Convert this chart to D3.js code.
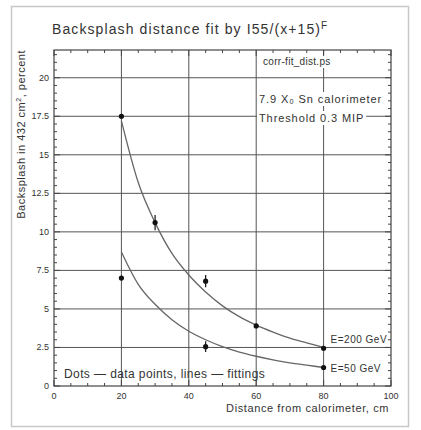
<!DOCTYPE html>
<html>
<head>
<meta charset="utf-8">
<script src="https://cdn.jsdelivr.net/npm/d3@7"></script>
<style>
  body { margin: 0; background: #fff; }
  text { font-family: "Liberation Sans", Arial, sans-serif; fill: #333; }
</style>
</head>
<body>
<svg width="421" height="430"></svg>
<script>
// measured data
let dist200 = [20, 30, 45, 60, 80];
let vals200 = [17.5, 10.6, 6.8, 3.9, 2.45];
let errs200 = [0, 0.5, 0.4, 0, 0];
let dist50 = [20, 45, 80];
let vals50 = [7.0, 2.55, 1.2];
let errs50 = [0, 0.35, 0];

// fit curves
let fitX = [20, 25, 30, 35, 40, 45, 50, 55, 60, 65, 70, 75, 80];
let fit200 = [17.2, 13.2, 10.6, 8.6, 7.2, 6.1, 5.2, 4.5, 3.95, 3.5, 3.1, 2.8, 2.5];
let fit50 = [8.7, 6.6, 5.3, 4.3, 3.55, 3.0, 2.55, 2.2, 1.93, 1.7, 1.5, 1.35, 1.2];

let xTicks = [0, 20, 40, 60, 80, 100];
let yTicks = [0, 2.5, 5, 7.5, 10, 12.5, 15, 17.5, 20];
let notes = ["corr-fit_dist.ps", "7.9 X\u2080 Sn calorimeter", "Threshold 0.3 MIP"];

let svg = d3.select("svg"),
    width = +svg.attr("width"),
    height = +svg.attr("height");

// outer frame
svg.append("rect")
    .attr("x", 11.5).attr("y", 6.5)
    .attr("width", 397).attr("height", 420)
    .attr("fill", "none").attr("stroke", "#c8c8c8").attr("stroke-width", 1.5);

let pLeft = 54, pRight = 391, pTop = 50, pBottom = 386;
let x = d3.scaleLinear().domain([0, 100]).range([pLeft, pRight]);
let y = d3.scaleLinear().domain([0, 21.8]).range([pBottom, pTop]);

// grid
let grid = svg.append("g").attr("stroke", "#555").attr("stroke-width", 1);
grid.selectAll(".gx").data(xTicks.slice(1, -1)).enter().append("line")
    .attr("x1", d => x(d)).attr("x2", d => x(d))
    .attr("y1", pTop).attr("y2", pBottom);
grid.selectAll(".gy").data(yTicks.slice(1)).enter().append("line")
    .attr("x1", pLeft).attr("x2", pRight)
    .attr("y1", d => y(d)).attr("y2", d => y(d));

// annotations with white boxes over the grid
let noteY = [65, 103, 122];
let noteSize = ["10px", "11px", "11px"];
notes.forEach(function(t, i) {
  let g = svg.append("g");
  let txt = g.append("text")
      .attr("x", i == 0 ? 263 : 259).attr("y", noteY[i])
      .style("font-size", noteSize[i])
      .style("letter-spacing", i == 0 ? "0.3px" : "0.9px")
      .text(t);
  let bb = txt.node().getBBox();
  g.insert("rect", "text")
      .attr("x", bb.x - 2).attr("y", bb.y - 1)
      .attr("width", Math.min(bb.width + 4, pRight - bb.x + 1)).attr("height", bb.height + 2)
      .attr("fill", "#fff");
});

// frame of plot
svg.append("rect")
    .attr("x", pLeft).attr("y", pTop)
    .attr("width", pRight - pLeft).attr("height", pBottom - pTop)
    .attr("fill", "none").attr("stroke", "#444").attr("stroke-width", 1.2);

// inward ticks on all sides
let tk = svg.append("g").attr("stroke", "#444");
let xMinor = d3.range(0, 100.1, 5);
let yMinor = d3.range(0, 21.8, 0.5);
tk.selectAll(".xb").data(xMinor).enter().append("line")
    .attr("x1", d => x(d)).attr("x2", d => x(d))
    .attr("y1", pBottom).attr("y2", d => pBottom - (d % 20 == 0 ? 6 : 3));
tk.selectAll(".xt").data(xMinor).enter().append("line")
    .attr("x1", d => x(d)).attr("x2", d => x(d))
    .attr("y1", pTop).attr("y2", d => pTop + (d % 20 == 0 ? 6 : 3));
tk.selectAll(".yl").data(yMinor).enter().append("line")
    .attr("y1", d => y(d)).attr("y2", d => y(d))
    .attr("x1", pLeft).attr("x2", d => pLeft + (d % 2.5 == 0 ? 6 : 3));
tk.selectAll(".yr").data(yMinor).enter().append("line")
    .attr("y1", d => y(d)).attr("y2", d => y(d))
    .attr("x1", pRight).attr("x2", d => pRight - (d % 2.5 == 0 ? 6 : 3));

// tick labels
svg.selectAll(".xl").data(xTicks).enter().append("text")
    .attr("x", d => x(d)).attr("y", pBottom + 13)
    .attr("text-anchor", "middle").style("font-size", "9px")
    .text(d => d);
svg.selectAll(".ylab").data(yTicks).enter().append("text")
    .attr("x", pLeft - 5).attr("y", d => y(d) + 3)
    .attr("text-anchor", "end").style("font-size", "9px")
    .text(d => d);

// axis titles
svg.append("text")
    .attr("x", pRight - 2).attr("y", 412)
    .attr("text-anchor", "end").style("font-size", "11px")
    .style("letter-spacing", "0.6px")
    .text("Distance from calorimeter, cm");
let yt = svg.append("text")
    .attr("transform", "translate(25," + pTop + ") rotate(-90)")
    .attr("text-anchor", "end").style("font-size", "11px")
    .style("letter-spacing", "0.5px");
yt.append("tspan").text("Backsplash in 432 cm");
yt.append("tspan").attr("dy", -4).style("font-size", "7px").text("2");
yt.append("tspan").attr("dy", 4).text(", percent");

// title
let tt = svg.append("text")
    .attr("x", 52).attr("y", 34).style("font-size", "14px")
    .style("letter-spacing", "1.1px");
tt.append("tspan").text("Backsplash distance fit by I55/(x+15)");
tt.append("tspan").attr("dy", -5).style("font-size", "10px").text("F");

// fit lines
let line = d3.line()
    .x(d => x(d[0])).y(d => y(d[1]))
    .curve(d3.curveMonotoneX);
[fit200, fit50].forEach(function(f) {
  svg.append("path")
      .attr("d", line(fitX.map((v, i) => [v, f[i]])))
      .attr("fill", "none").attr("stroke", "#666").attr("stroke-width", 1.3);
});

// data points with error bars
function drawPoints(xs, vs, es) {
  let pts = xs.map((v, i) => ({x: v, v: vs[i], e: es[i]}));
  svg.append("g").selectAll("line").data(pts.filter(d => d.e > 0)).enter().append("line")
      .attr("x1", d => x(d.x)).attr("x2", d => x(d.x))
      .attr("y1", d => y(d.v - d.e)).attr("y2", d => y(d.v + d.e))
      .attr("stroke", "#111").attr("stroke-width", 1.2);
  svg.append("g").selectAll("circle").data(pts).enter().append("circle")
      .attr("cx", d => x(d.x)).attr("cy", d => y(d.v))
      .attr("r", 2.6).attr("fill", "#111");
}
drawPoints(dist200, vals200, errs200);
drawPoints(dist50, vals50, errs50);

// curve labels
svg.append("text").attr("x", x(80) + 7).attr("y", y(vals200[4]) - 5)
    .style("font-size", "10px").style("letter-spacing", "0.5px").text("E=200 GeV");
svg.append("text").attr("x", x(80) + 7).attr("y", y(vals50[2]) + 4)
    .style("font-size", "10px").style("letter-spacing", "0.5px").text("E=50 GeV");

svg.append("text").attr("x", 64).attr("y", 378)
    .style("font-size", "12px").style("letter-spacing", "0.4px")
    .text("Dots \u2014 data points, lines \u2014 fittings");
</script>
</body>
</html>
